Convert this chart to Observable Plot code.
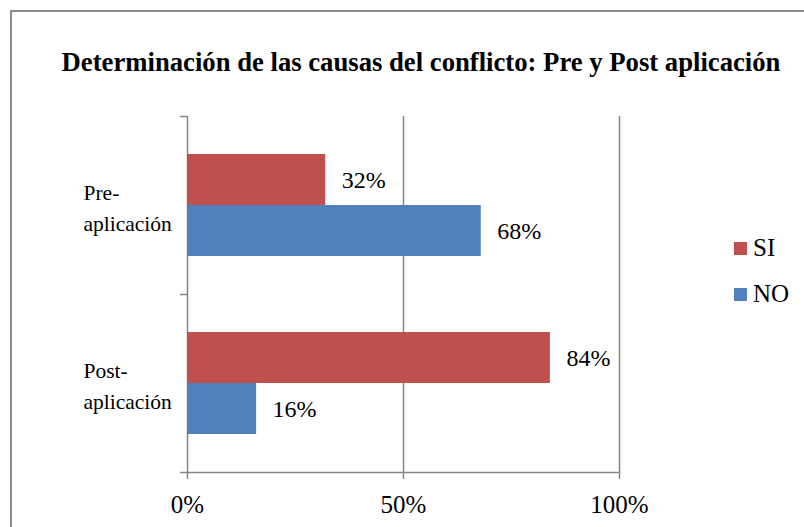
<!DOCTYPE html>
<html><head><meta charset="utf-8">
<script src="https://cdn.jsdelivr.net/npm/d3@7"></script>
<script src="https://cdn.jsdelivr.net/npm/@observablehq/plot@0.6"></script>
<style>
body{margin:0;background:#fff;}
#wrap{position:relative;width:804px;height:527px;overflow:hidden;font-family:"Liberation Serif","Times New Roman",serif;}
#border{position:absolute;left:10px;top:10px;width:820px;height:600px;border-left:2px solid #8c8c8c;border-top:2px solid #8c8c8c;}
#title{position:absolute;left:0;width:842px;top:49px;text-align:center;font-weight:bold;white-space:nowrap;line-height:1;}
#chart{position:absolute;left:0;top:0;}
#legend{position:absolute;left:734px;top:225px;font-size:25px;}
.item{display:flex;align-items:center;height:46px;}
.sw{width:13px;height:13px;margin-right:6px;}
</style></head><body>
<div id="wrap"><div id="border"></div><div id="chart"></div><div id="title"></div><div id="legend"></div></div>
<script>
const title = "Determinación de las causas del conflicto: Pre y Post aplicación";
const categories = ["Pre-aplicación", "Post-aplicación"];
const categoryLabels = ["Pre-\naplicación", "Post-\naplicación"];
const series = ["SI", "NO"];
const siValues = [0.32, 0.84];
const noValues = [0.68, 0.16];
const colors = ["#C0504D", "#4F81BD"];
const xTicks = [0, 0.5, 1];
const xTickLabels = ["0%", "50%", "100%"];

const data = [];
categories.forEach((c, i) => {
  data.push({category: c, series: series[0], value: siValues[i]});
  data.push({category: c, series: series[1], value: noValues[i]});
});

const FONT = "'Liberation Serif', 'Times New Roman', serif";

// title sized to match reference width
const t = document.getElementById("title");
t.textContent = title;
const ctx = document.createElement("canvas").getContext("2d");
ctx.font = "bold 20px " + FONT;
const w20 = ctx.measureText(title).width;
t.style.fontSize = (20 * 719 / w20).toFixed(2) + "px";

const grid = "#868686";
const plot = Plot.plot({
  width: 804, height: 527,
  marginLeft: 187, marginRight: 185, marginTop: 116, marginBottom: 55,
  style: {fontFamily: FONT, fontSize: "24px", color: "#000", background: "transparent", overflow: "visible"},
  x: {domain: [0, 1]},
  y: {domain: series, paddingInner: 0, paddingOuter: 0.745, axis: null},
  fy: {domain: categories, padding: 0, axis: null},
  color: {domain: series, range: colors},
  marks: [
    Plot.gridX(xTicks, {stroke: grid, strokeOpacity: 1, strokeWidth: 1.5}),
    Plot.barX(data, {fy: "category", y: "series", x: "value", fill: "series"}),
    Plot.text(data, {fy: "category", y: "series", x: "value",
      text: d => Math.round(d.value * 100) + "%", textAnchor: "start", dx: 16, fontSize: 24}),
    Plot.axisX({ticks: xTicks, tickFormat: d => xTickLabels[xTicks.indexOf(d)],
      tickSize: 7, tickPadding: 16, stroke: grid, strokeWidth: 1.5, label: null, fontSize: 25}),
    Plot.axisFy({anchor: "left", ticks: categories, tickFormat: d => categoryLabels[categories.indexOf(d)],
      tickSize: 0, tickPadding: 104, textAnchor: "start", lineHeight: 1.45, fontSize: 21.5, label: null}),
    Plot.axisFy({anchor: "left", ticks: categories, tickSize: 7, stroke: grid, strokeWidth: 1.5, fill: "none", dy: -89, label: null}),
    Plot.axisFy({anchor: "left", ticks: [categories[categories.length - 1]], tickSize: 7, stroke: grid, strokeWidth: 1.5, fill: "none", dy: 89, label: null}),
    Plot.frame({anchor: "bottom", stroke: grid, strokeWidth: 1.5, facetAnchor: "bottom"})
  ]
});
document.getElementById("chart").appendChild(plot);

const lg = document.getElementById("legend");
series.forEach((s, i) => {
  const it = document.createElement("div");
  it.className = "item";
  it.innerHTML = `<div class="sw" style="background:${colors[i]}"></div><span>${s}</span>`;
  lg.appendChild(it);
});
</script>
</body></html>
